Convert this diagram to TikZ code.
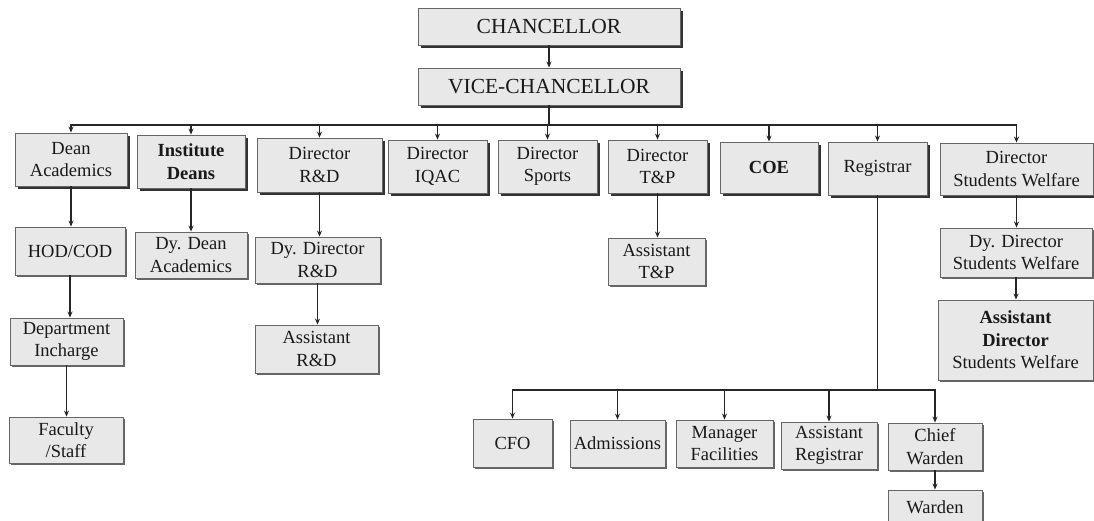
\documentclass[tikz,border=0pt]{standalone}
\usepackage{fontspec}
\setmainfont{Liberation Serif}
\usetikzlibrary{shadows,arrows.meta}
\begin{document}
\begin{tikzpicture}[x=1pt,y=-1pt,
  base/.style={rectangle, draw=black!60, line width=0.9pt, fill=black!9, align=center, inner sep=1pt,
     text=black!90, font=\fontsize{18.5}{22.5}\selectfont},
  topbox/.style={base, drop shadow={shadow xshift=2.5pt, shadow yshift=-2.5pt, fill=black!80, opacity=1}},
  box/.style={base, drop shadow={shadow xshift=1.5pt, shadow yshift=-1.5pt, fill=black!60, opacity=1}},
  arr/.style={draw=black!85, line width=1.3pt, -{Stealth[length=6pt,width=5pt]}},
  ln/.style={draw=black!85, line width=1.3pt}]
\useasboundingbox (0,0) rectangle (1094,520);
\fill[white] (0,0) rectangle (1094,520);
% top
\node[topbox, minimum width=262pt, minimum height=37pt, font=\fontsize{21.5}{24}\selectfont] (chan) at (549,26.5) {CHANCELLOR};
\node[topbox, minimum width=262pt, minimum height=37pt, font=\fontsize{21.5}{24}\selectfont] (vc) at (549,86.5) {VICE-CHANCELLOR};
% row 1
\node[topbox, minimum width=112pt, minimum height=53pt] (dean) at (71,159.5) {Dean\\Academics};
\node[topbox, minimum width=108pt, minimum height=53pt] (inst) at (191,161.5) {\textbf{Institute}\\\textbf{Deans}};
\node[topbox, minimum width=125pt, minimum height=54pt] (rnd) at (319.5,165) {Director\\R\&D};
\node[topbox, minimum width=99pt, minimum height=53pt] (iqac) at (437.5,166.5) {Director\\IQAC};
\node[topbox, minimum width=99pt, minimum height=53pt] (sports) at (547.5,166.5) {Director\\Sports};
\node[topbox, minimum width=99pt, minimum height=53pt] (tnp) at (657.5,166.5) {Director\\T\&P};
\node[topbox, minimum width=98pt, minimum height=51pt] (coe) at (769,167.5) {\textbf{COE}};
\node[topbox, minimum width=99pt, minimum height=53pt] (reg) at (877.5,168.5) {Registrar};
\node[topbox, minimum width=153pt, minimum height=52pt] (dsw) at (1016.5,169) {Director\\Students Welfare};
% row 2
\node[box, minimum width=110pt, minimum height=48pt] (hod) at (70,251) {HOD/COD};
\node[box, minimum width=112pt, minimum height=46pt] (dydean) at (191,255) {Dy. Dean\\Academics};
\node[box, minimum width=125pt, minimum height=46pt] (dydir) at (317.5,260) {Dy. Director\\R\&D};
\node[box, minimum width=97pt, minimum height=47pt] (asstnp) at (656.5,261.5) {Assistant\\T\&P};
\node[box, minimum width=152pt, minimum height=49pt] (dydsw) at (1016,252.5) {Dy. Director\\Students Welfare};
% row 3
\node[box, minimum width=113pt, minimum height=47pt] (dept) at (66.5,341.5) {Department\\Incharge};
\node[box, minimum width=123pt, minimum height=48pt] (asrnd) at (316.5,349) {Assistant\\R\&D};
\node[box, minimum width=155pt, minimum height=80pt] (asdsw) at (1015.5,340) {\textbf{Assistant}\\\textbf{Director}\\Students Welfare};
% row 4
\node[box, minimum width=114pt, minimum height=46pt] (fac) at (66,440) {Faculty\\/Staff};
% registrar subtree
\node[box, minimum width=79pt, minimum height=48pt] (cfo) at (512.5,443) {CFO};
\node[box, minimum width=95pt, minimum height=47pt] (adm) at (617.5,443.5) {Admissions};
\node[box, minimum width=97pt, minimum height=47pt] (mgr) at (724.5,443.5) {Manager\\Facilities};
\node[box, minimum width=96pt, minimum height=47pt] (asreg) at (829,445.5) {Assistant\\Registrar};
\node[box, minimum width=94pt, minimum height=47pt] (chief) at (935,446.5) {Chief\\Warden};
\node[box, minimum width=94pt, minimum height=34pt] (warden) at (935,507) {Warden};
% connectors
\draw[arr] (chan) -- (vc);
\coordinate (bus) at (549,125);
\draw[ln] (vc.south) -- (bus);
\foreach \c in {dean,inst,rnd,iqac,sports,tnp,coe,reg,dsw}{
  \draw[arr] (bus) -| (\c.north);
}
\draw[arr] (dean.south) -- (dean.south |- hod.north);
\draw[arr] (hod.south) -- (hod.south |- dept.north);
\draw[arr] (dept.south) -- (dept.south |- fac.north);
\draw[arr] (inst.south) -- (inst.south |- dydean.north);
\draw[arr] (rnd.south) -- (rnd.south |- dydir.north);
\draw[arr] (dydir.south) -- (dydir.south |- asrnd.north);
\draw[arr] (tnp.south) -- (tnp.south |- asstnp.north);
\draw[arr] (dsw.south) -- (dsw.south |- dydsw.north);
\draw[arr] (dydsw.south) -- (dydsw.south |- asdsw.north);
\coordinate (rbus) at (877.5,390);
\draw[ln] (reg.south) -- (rbus);
\foreach \c in {cfo,adm,mgr,asreg,chief}{
  \draw[arr] (rbus) -| (\c.north);
}
\draw[arr] (chief.south) -- (chief.south |- warden.north);
\end{tikzpicture}
\end{document}
